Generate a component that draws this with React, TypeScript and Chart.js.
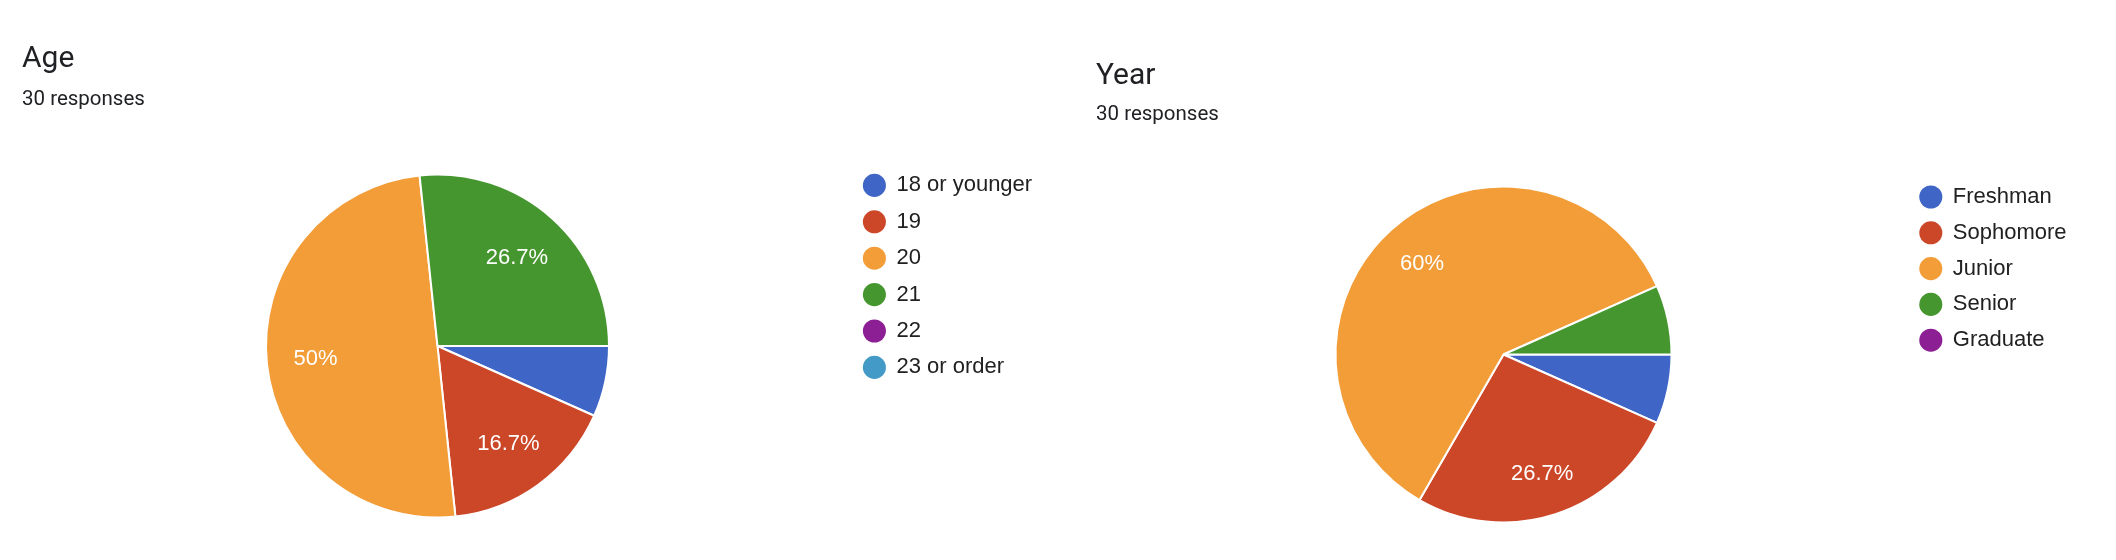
import React, { useEffect, useRef } from 'react';
import { Chart, registerables, DoughnutController } from 'chart.js';

Chart.register(...registerables);

// ---------- data ----------
const subtitleText = '30 responses';

const ageTitle = 'Age';
const ageLabels = ['18 or younger', '19', '20', '21', '22', '23 or order'];
const ageCounts = [2, 5, 15, 8, 0, 0];

const yearTitle = 'Year';
const yearLabels = ['Freshman', 'Sophomore', 'Junior', 'Senior', 'Graduate'];
const yearCounts = [2, 8, 18, 2, 0];

const sliceColors = ['#3f66c6', '#cc4628', '#f29d38', '#46962f', '#8d1f94', '#449ac6'];

// ---------- plugins ----------
const placePlugin = {
  id: 'place',
  afterLayout(chart: any, _args: any, opts: any) {
    const { cx, cy, r, legendLeft, legendTop } = opts;
    const a = chart.chartArea;
    a.left = cx - r;
    a.right = cx + r;
    a.top = cy - r;
    a.bottom = cy + r;
    a.width = 2 * r;
    a.height = 2 * r;
    const lg = chart.legend;
    if (lg) {
      lg.left = legendLeft;
      lg.top = legendTop;
      lg.right = chart.width;
      lg.bottom = chart.height;
      lg.width = lg.right - lg.left;
      lg.height = lg.bottom - lg.top;
    }
  },
};

const sliceLabels = {
  id: 'sliceLabels',
  afterDatasetsDraw(chart: any, _args: any, opts: any) {
    const ctx = chart.ctx as CanvasRenderingContext2D;
    const ds = chart.data.datasets[0].data as number[];
    const total = ds.reduce((s, v) => s + v, 0);
    const meta = chart.getDatasetMeta(0);
    ctx.save();
    ctx.font = '22px "Liberation Sans", Arial, sans-serif';
    ctx.fillStyle = '#ffffff';
    ctx.textAlign = 'center';
    ctx.textBaseline = 'middle';
    meta.data.forEach((el: any, i: number) => {
      const pct = (ds[i] / total) * 100;
      if (pct < opts.threshold) return;
      const text = `${parseFloat(pct.toFixed(1))}%`;
      const { x, y, startAngle, endAngle, outerRadius } = el.getProps(
        ['x', 'y', 'startAngle', 'endAngle', 'outerRadius'],
        true
      );
      const mid = (startAngle + endAngle) / 2;
      const c = Math.cos(mid);
      const s = Math.sin(mid);
      const hw = ctx.measureText(text).width / 2;
      const hh = 8;
      const d = opts.edge * outerRadius - (hw * Math.abs(c) + hh * Math.abs(s));
      ctx.fillText(text, x + c * d, y + s * d);
    });
    ctx.restore();
  },
};

const baseGenerate = (DoughnutController as any).overrides.plugins.legend.labels.generateLabels;

type CardProps = {
  left: number;
  title: string;
  labels: string[];
  values: number[];
  padLeft: number;
  titlePad: number;
  subPad: number;
  legendPad: number;
  place: { cx: number; cy: number; r: number; legendLeft: number; legendTop: number };
};

function PieCard(p: CardProps) {
  const ref = useRef<HTMLCanvasElement>(null);
  useEffect(() => {
    const chart = new Chart(ref.current as HTMLCanvasElement, {
      type: 'pie',
      data: {
        labels: p.labels,
        datasets: [
          {
            data: p.values,
            backgroundColor: sliceColors.slice(0, p.values.length),
            borderColor: '#ffffff',
            borderWidth: 2,
            rotation: 90,
            radius: p.place.r,
          } as any,
        ],
      },
      options: {
        responsive: false,
        animation: false,
        events: [],
        layout: { padding: { left: p.padLeft, top: 0, right: 0, bottom: 0 } },
        plugins: {
          title: {
            display: true,
            text: p.title,
            align: 'start',
            color: '#202124',
            font: { family: 'Roboto', size: 30, weight: 'normal', lineHeight: 1.2 },
            padding: { top: p.titlePad, bottom: 0 },
          },
          subtitle: {
            display: true,
            text: subtitleText,
            align: 'start',
            color: '#202124',
            font: { family: 'Roboto', size: 20.5, weight: 'normal', lineHeight: 1.2 },
            padding: { top: p.subPad, bottom: 0 },
          },
          legend: {
            display: true,
            position: 'right',
            align: 'start',
            labels: {
              usePointStyle: true,
              pointStyle: 'circle',
              boxWidth: 22,
              boxHeight: 16.3,
              padding: p.legendPad,
              color: '#212121',
              font: { family: '"Liberation Sans", Arial, sans-serif', size: 22 },
              generateLabels: (c: any) =>
                baseGenerate(c).map((it: any) => ({ ...it, lineWidth: 0 })),
            },
          },
          tooltip: { enabled: false },
          place: p.place,
          sliceLabels: { threshold: 10, edge: 0.848 },
        } as any,
      },
      plugins: [placePlugin, sliceLabels],
    } as any);
    return () => chart.destroy();
  }, []);
  return (
    <canvas
      ref={ref}
      width={1058}
      height={560}
      style={{ position: 'absolute', left: p.left, top: 0, display: 'block' }}
    />
  );
}

export default function App() {
  return (
    <div style={{ position: 'absolute', left: 0, top: 0, width: 2116, height: 560, background: '#ffffff' }}>
      <PieCard
        left={0}
        title={ageTitle}
        labels={ageLabels}
        values={ageCounts}
        padLeft={22}
        titlePad={41}
        subPad={10.4}
        legendPad={14.4}
        place={{ cx: 437.5, cy: 346, r: 171.5, legendLeft: 849, legendTop: 160 }}
      />
      <PieCard
        left={1058}
        title={yearTitle}
        labels={yearLabels}
        values={yearCounts}
        padLeft={38}
        titlePad={58.5}
        subPad={7.9}
        legendPad={13.8}
        place={{ cx: 445.5, cy: 354.5, r: 168, legendLeft: 848, legendTop: 172.2 }}
      />
    </div>
  );
}
